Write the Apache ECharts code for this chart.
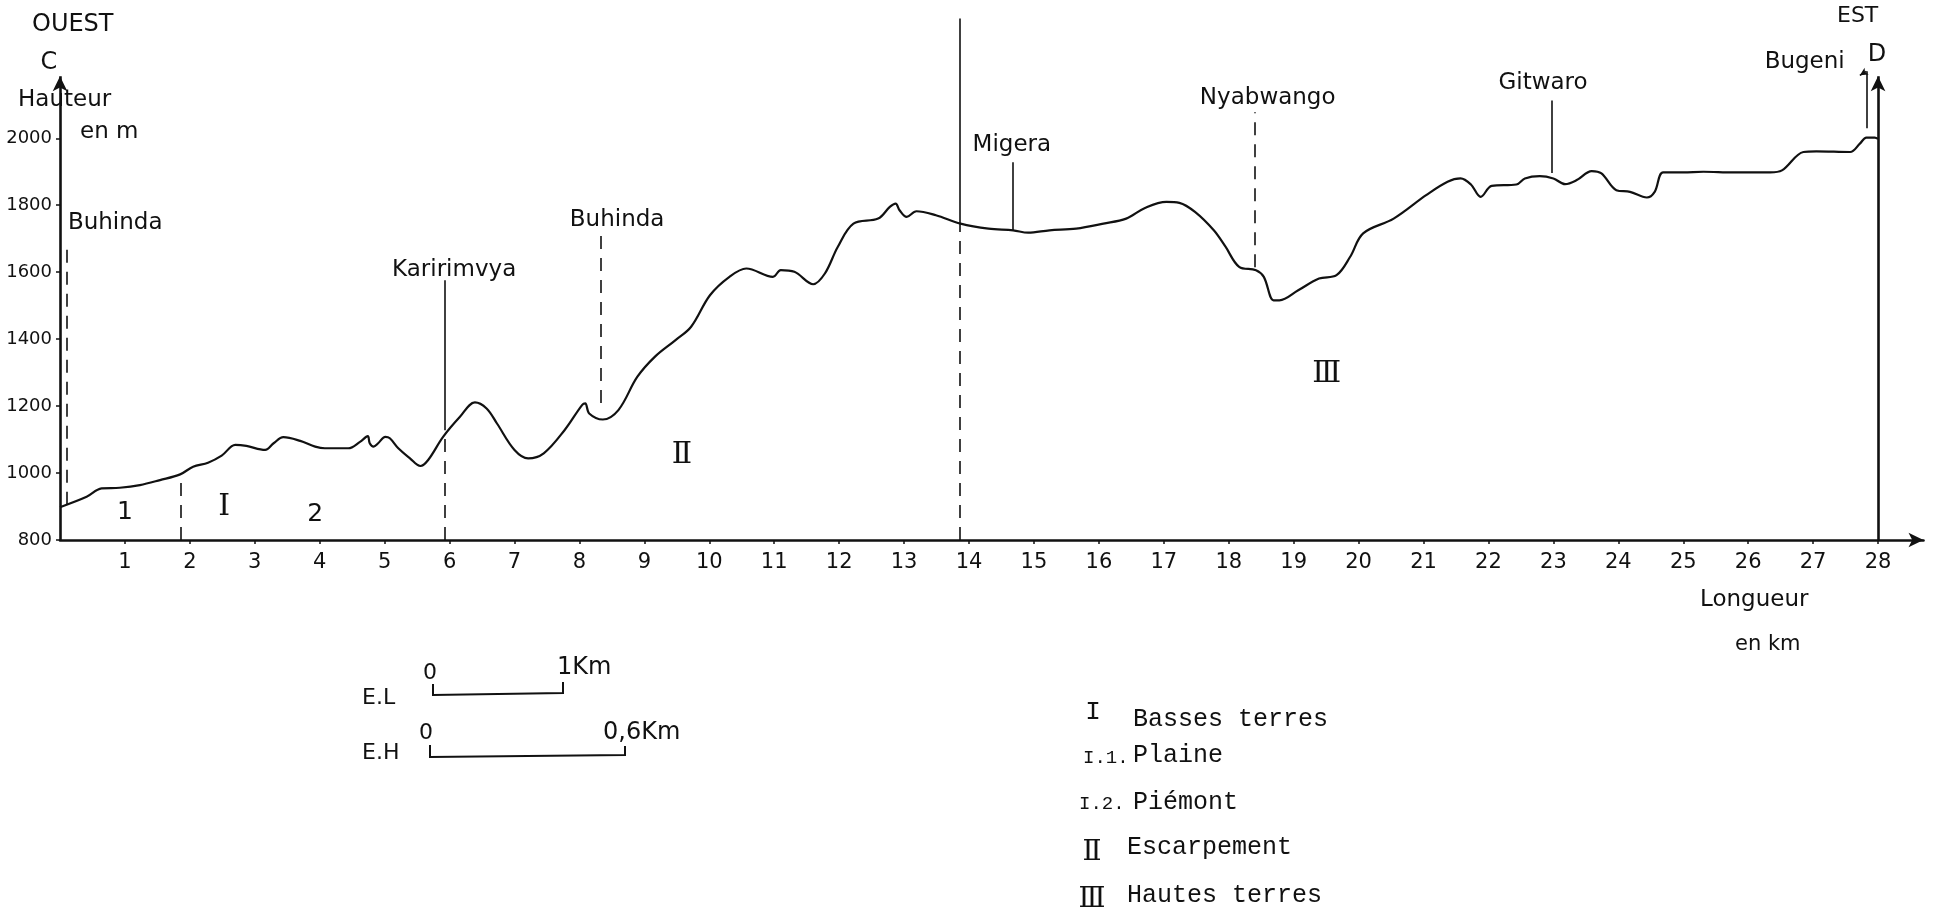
<!DOCTYPE html>
<html>
<head>
<meta charset="utf-8">
<script src="https://cdn.jsdelivr.net/npm/echarts@6/dist/echarts.min.js"></script>
<style>html,body{margin:0;padding:0;background:#fff}#c{width:1939px;height:917px}</style>
</head>
<body>
<div id="c"></div>
<script>
// ---- DATA ----
const profileKm = [0, 0.41, 0.64, 0.92, 1.23, 1.54, 1.85, 2.05, 2.28, 2.49, 2.70, 2.87, 3.16, 3.29, 3.44, 3.70, 3.93, 4.08, 4.44, 4.62, 4.74, 4.77, 4.83, 4.90, 5.01, 5.08, 5.21, 5.39, 5.55, 5.67, 5.90, 6.16, 6.39, 6.57, 6.73, 7.00, 7.21, 7.45, 7.77, 8.04, 8.09, 8.15, 8.36, 8.60, 8.89, 9.16, 9.48, 9.72, 10.01, 10.31, 10.57, 10.98, 11.10, 11.31, 11.60, 11.78, 11.98, 12.22, 12.60, 12.78, 12.87, 12.93, 13.04, 13.19, 13.49, 13.87, 14.30, 14.68, 14.91, 15.24, 15.65, 16.07, 16.42, 16.71, 17.04, 17.24, 17.48, 17.77, 17.95, 18.16, 18.42, 18.54, 18.69, 18.78, 19.07, 19.39, 19.66, 19.87, 20.07, 20.54, 21.04, 21.37, 21.57, 21.73, 21.88, 22.05, 22.43, 22.56, 22.79, 23.00, 23.18, 23.36, 23.59, 23.74, 23.97, 24.18, 24.44, 24.56, 24.69, 25.00, 25.31, 25.77, 26.34, 26.52, 26.85, 27.05, 27.57, 27.72, 27.82, 27.95, 28.00];
const profileH = [898, 929, 954, 956, 964, 979, 996, 1019, 1031, 1052, 1084, 1081, 1069, 1089, 1107, 1096, 1079, 1074, 1074, 1093, 1110, 1089, 1079, 1089, 1108, 1104, 1074, 1044, 1021, 1039, 1108, 1168, 1211, 1193, 1148, 1069, 1044, 1059, 1128, 1203, 1208, 1178, 1160, 1188, 1287, 1347, 1397, 1437, 1531, 1586, 1611, 1586, 1606, 1601, 1564, 1596, 1676, 1745, 1760, 1795, 1805, 1785, 1765, 1782, 1770, 1745, 1730, 1725, 1718, 1725, 1730, 1745, 1760, 1792, 1810, 1807, 1780, 1725, 1676, 1616, 1606, 1586, 1516, 1516, 1546, 1581, 1591, 1646, 1716, 1760, 1830, 1870, 1880, 1862, 1825, 1858, 1862, 1880, 1887, 1880, 1863, 1875, 1902, 1895, 1845, 1840, 1823, 1840, 1898, 1898, 1900, 1898, 1898, 1904, 1959, 1961, 1959, 1984, 2002, 2002, 1998];

const xTicks = [1,2,3,4,5,6,7,8,9,10,11,12,13,14,15,16,17,18,19,20,21,22,23,24,25,26,27,28];
const yTicks = [800, 1000, 1200, 1400, 1600, 1800, 2000];

// place names (km, height of label)
const placeNames = ['Buhinda', 'Karirimvya', 'Buhinda', 'Migera', 'Nyabwango', 'Gitwaro', 'Bugeni'];
const placeKm    = [0.85, 6.07, 8.58, 14.66, 18.6, 22.84, 26.87];
const placeH     = [1746, 1606, 1755, 1979, 2119, 2164, 2227];

// guide lines (km, from height, to height, dashed?)
const guideKm     = [0.11, 1.86, 5.92, 5.92, 8.33, 13.85, 13.85, 14.68, 18.40, 22.98, 27.82];
const guideFrom   = [905,  800,  800,  1128, 1209, 800,   1745,  1725,  1615,  1896,  2030];
const guideTo     = [1675, 994,  1128, 1576, 1716, 1745,  2358,  1928,  2078,  2113,  2200];
const guideDashed = [true, true, true, false, true, true, false, false, true, false, false];

// region labels
const regionText  = ['1', 'Ⅰ', '2', 'Ⅱ', 'Ⅲ'];
const regionRoman = [false, true, false, true, true];
const regionKm    = [1.0, 2.53, 3.93, 9.58, 19.51];
const regionH     = [881, 898, 875, 1054, 1296];

// ---- CHART ----
const chart = echarts.init(document.getElementById('c'), null, {renderer: 'canvas'});
const FONT = 'DejaVu Sans';
const SERIF = 'DejaVu Serif';
const MONO = 'Liberation Mono';
const INK = '#111';

const profileData = profileKm.map((k, i) => [k, profileH[i]]);

const guideLines = guideKm.map((k, i) => [
  {coord: [k, guideFrom[i]], lineStyle: {type: guideDashed[i] ? [13, 9] : 'solid', width: 1.6, color: INK}},
  {coord: [k, guideTo[i]]}
]);
// west (left) height axis with arrow
guideLines.push([
  {coord: [0, 800], symbol: 'none', lineStyle: {type: 'solid', width: 2.6, color: INK}},
  {coord: [0, 2185], symbol: 'arrow', symbolSize: [11, 15]}
]);
// east (right) axis at 28 km with arrow
guideLines.push([
  {coord: [28, 800], symbol: 'none', lineStyle: {type: 'solid', width: 2.6, color: INK}},
  {coord: [28, 2185], symbol: 'arrow', symbolSize: [11, 15]}
]);
// Bugeni hook arrow
guideLines.push([
  {coord: [27.82, 2200], symbol: 'none', lineStyle: {type: 'solid', width: 1.6, color: INK}},
  {coord: [27.72, 2188], symbol: 'arrow', symbolSize: [6, 8]}
]);

const txt = (text, x, y, size, align, fam) => ({
  type: 'text', x: x, y: y, silent: true,
  style: {text: text, x: 0, y: 0, fill: INK, fontSize: size, fontFamily: fam || FONT,
          textAlign: align || 'left', textVerticalAlign: 'middle'}
});

const option = {
  backgroundColor: '#ffffff',
  animation: false,
  grid: {left: 60, right: 15.5, top: 4.35, bottom: 377, containLabel: false},
  xAxis: {
    type: 'value', min: 0, max: 28.7, interval: 1,
    axisLine: {show: true, symbol: ['none', 'arrow'], symbolSize: [11, 15], lineStyle: {color: INK, width: 2.6}},
    axisTick: {show: true, length: 4, customValues: xTicks, lineStyle: {color: INK, width: 1.5}},
    axisLabel: {show: true, customValues: xTicks, color: INK, fontSize: 21, fontFamily: FONT, margin: 12,
      formatter: v => (v >= 1 && Number.isInteger(v)) ? String(v) : ''},
    splitLine: {show: false}
  },
  yAxis: {
    type: 'value', min: 800, max: 2400, interval: 200,
    axisLine: {show: false},
    axisTick: {show: true, length: 4, customValues: yTicks, lineStyle: {color: INK, width: 1.5}},
    axisLabel: {show: true, customValues: yTicks, color: INK, fontSize: 18, fontFamily: FONT, margin: 8,
      formatter: v => (v % 200 === 0 && v <= 2000) ? String(v) : ''},
    splitLine: {show: false}
  },
  series: [
    {
      type: 'line', data: profileData, showSymbol: false, symbol: 'none',
      smooth: 0.35, clip: false,
      lineStyle: {color: INK, width: 2.2},
      markLine: {
        silent: true, symbol: ['none', 'none'], animation: false,
        label: {show: false},
        data: guideLines
      }
    },
    {
      type: 'scatter', clip: false, symbolSize: 1, silent: true,
      itemStyle: {color: 'rgba(0,0,0,0)', opacity: 1},
      data: placeKm.map((k, i) => [k, placeH[i], placeNames[i]]),
      label: {show: true, position: 'inside', formatter: p => p.data[2], color: INK, fontSize: 23, fontFamily: FONT}
    },
    {
      type: 'scatter', clip: false, symbolSize: 1, silent: true,
      itemStyle: {color: 'rgba(0,0,0,0)', opacity: 1},
      data: regionKm.map((k, i) => ({
        value: [k, regionH[i], regionText[i]],
        label: regionRoman[i] ? {fontFamily: SERIF, fontSize: 30} : {fontFamily: FONT, fontSize: 25}
      })),
      label: {show: true, position: 'inside', formatter: p => p.data.value[2], color: INK}
    }
  ],
  graphic: [
    txt('OUEST', 32, 25, 24),
    txt('C', 49, 63, 24, 'center'),
    txt('Hauteur', 18, 100, 23),
    txt('en m', 80, 132, 23),
    txt('EST', 1837, 16, 22),
    txt('D', 1877, 55, 24, 'center'),
    txt('Longueur', 1700, 600, 23),
    txt('en km', 1735, 645, 21),
    // scale bars
    txt('E.L', 362, 698, 22),
    txt('0', 430, 673, 22, 'center'),
    txt('1Km', 557, 668, 24),
    {type: 'polyline', silent: true, shape: {points: [[433, 684], [433, 695], [563, 693], [563, 682]]},
     style: {stroke: INK, lineWidth: 2, fill: null}},
    txt('E.H', 362, 753, 22),
    txt('0', 426, 733, 22, 'center'),
    txt('0,6Km', 603, 733, 24),
    {type: 'polyline', silent: true, shape: {points: [[430, 745], [430, 757], [625, 755], [625, 746]]},
     style: {stroke: INK, lineWidth: 2, fill: null}},
    // legend
    txt('I', 1093, 712, 26, 'center', MONO),
    txt('Basses terres', 1133, 719, 25, 'left', MONO),
    txt('I.1.', 1083, 758, 19, 'left', MONO),
    txt('Plaine', 1133, 755, 25, 'left', MONO),
    txt('I.2.', 1079, 804, 19, 'left', MONO),
    txt('Piémont', 1133, 802, 25, 'left', MONO),
    txt('Ⅱ', 1092, 853, 28, 'center', SERIF),
    txt('Escarpement', 1127, 847, 25, 'left', MONO),
    txt('Ⅲ', 1092, 900, 28, 'center', SERIF),
    txt('Hautes terres', 1127, 895, 25, 'left', MONO)
  ]
};
chart.setOption(option);
</script>
</body>
</html>
